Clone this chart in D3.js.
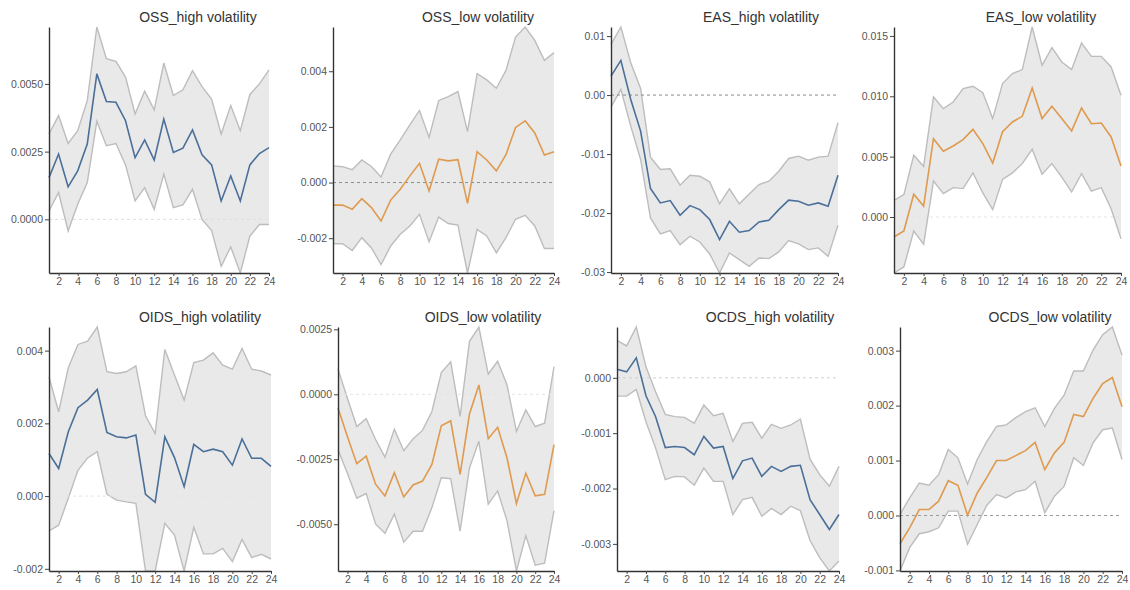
<!DOCTYPE html>
<html>
<head>
<meta charset="utf-8">
<script src="https://cdn.jsdelivr.net/npm/d3@7"></script>
<style>
  body { margin: 0; background: #fff; }
  svg { display: block; font-family: "Liberation Sans", Arial, sans-serif; }
  .tick text { fill: #555; font-size: 10.5px; }
  .title { fill: #333; font-size: 14px; font-weight: 400; }
</style>
</head>
<body>
<svg id="chart" width="1130" height="590"></svg>
<script>
// horizons 1..24
const horizons = d3.range(1, 25);

// OSS_high volatility
const ossHighMean  = [0.00154, 0.00241, 0.00120, 0.00179, 0.00278, 0.00537, 0.00435, 0.00432, 0.00364, 0.00228, 0.00293, 0.00219, 0.00370, 0.00247, 0.00263, 0.00330, 0.00238, 0.00201, 0.00068, 0.00160, 0.00068, 0.00201, 0.00243, 0.00265];
const ossHighUpper = [0.00315, 0.00383, 0.00280, 0.00327, 0.00438, 0.00710, 0.00593, 0.00583, 0.00525, 0.00389, 0.00473, 0.00404, 0.00577, 0.00457, 0.00478, 0.00549, 0.00490, 0.00444, 0.00315, 0.00420, 0.00327, 0.00461, 0.00500, 0.00552];
const ossHighLower = [0.00031, 0.00099, -0.00043, 0.00056, 0.00136, 0.00362, 0.00272, 0.00280, 0.00201, 0.00068, 0.00117, 0.00037, 0.00167, 0.00043, 0.00053, 0.00111, 0.00000, -0.00041, -0.00173, -0.00102, -0.00198, -0.00062, -0.00019, -0.00019];

// OSS_low volatility
const ossLowMean  = [-0.00081, -0.00081, -0.00096, -0.00058, -0.00090, -0.00138, -0.00063, -0.00024, 0.00024, 0.00069, -0.00030, 0.00084, 0.00078, 0.00082, -0.00075, 0.00111, 0.00081, 0.00042, 0.00100, 0.00198, 0.00222, 0.00178, 0.00099, 0.00111];
const ossLowUpper = [0.00060, 0.00057, 0.00046, 0.00081, 0.00058, 0.00020, 0.00102, 0.00153, 0.00207, 0.00259, 0.00162, 0.00295, 0.00309, 0.00327, 0.00183, 0.00391, 0.00369, 0.00339, 0.00403, 0.00523, 0.00559, 0.00511, 0.00439, 0.00467];
const ossLowLower = [-0.00220, -0.00220, -0.00244, -0.00198, -0.00235, -0.00295, -0.00228, -0.00186, -0.00156, -0.00114, -0.00213, -0.00124, -0.00147, -0.00153, -0.00325, -0.00168, -0.00192, -0.00253, -0.00198, -0.00132, -0.00118, -0.00156, -0.00237, -0.00237];

// EAS_high volatility
const easHighMean  = [0.00322, 0.00588, -0.00074, -0.00611, -0.01584, -0.01828, -0.01788, -0.02037, -0.01873, -0.01941, -0.02110, -0.02450, -0.02139, -0.02325, -0.02297, -0.02150, -0.02122, -0.01941, -0.01782, -0.01799, -0.01867, -0.01828, -0.01884, -0.01358];
const easHighUpper = [0.00860, 0.01154, 0.00549, 0.00113, -0.01052, -0.01262, -0.01250, -0.01528, -0.01358, -0.01375, -0.01471, -0.01844, -0.01590, -0.01844, -0.01675, -0.01516, -0.01460, -0.01290, -0.01075, -0.01035, -0.01103, -0.01052, -0.01035, -0.00470];
const easHighLower = [-0.00204, 0.00096, -0.00526, -0.01092, -0.02082, -0.02354, -0.02297, -0.02535, -0.02393, -0.02490, -0.02693, -0.03016, -0.02676, -0.02789, -0.02903, -0.02761, -0.02772, -0.02659, -0.02467, -0.02523, -0.02620, -0.02591, -0.02733, -0.02207];

// EAS_low volatility
const easLowMean  = [-0.00166, -0.00116, 0.00188, 0.00091, 0.00649, 0.00544, 0.00588, 0.00641, 0.00726, 0.00608, 0.00447, 0.00707, 0.00787, 0.00834, 0.01069, 0.00815, 0.00917, 0.00815, 0.00713, 0.00903, 0.00773, 0.00779, 0.00663, 0.00423];
const easLowUpper = [0.00138, 0.00185, 0.00511, 0.00420, 0.00994, 0.00898, 0.00953, 0.01063, 0.01083, 0.01030, 0.00815, 0.01105, 0.01188, 0.01221, 0.01574, 0.01257, 0.01403, 0.01284, 0.01221, 0.01442, 0.01331, 0.01331, 0.01243, 0.01008];
const easLowLower = [-0.00464, -0.00414, -0.00116, -0.00226, 0.00298, 0.00193, 0.00243, 0.00235, 0.00365, 0.00199, 0.00061, 0.00312, 0.00365, 0.00442, 0.00561, 0.00354, 0.00442, 0.00331, 0.00207, 0.00359, 0.00215, 0.00243, 0.00069, -0.00180];

// OIDS_high volatility
const oidsHighMean  = [0.00117, 0.00076, 0.00177, 0.00243, 0.00264, 0.00293, 0.00175, 0.00163, 0.00160, 0.00168, 0.00005, -0.00017, 0.00163, 0.00106, 0.00026, 0.00142, 0.00122, 0.00129, 0.00122, 0.00085, 0.00157, 0.00104, 0.00104, 0.00082];
const oidsHighUpper = [0.00328, 0.00232, 0.00353, 0.00417, 0.00426, 0.00465, 0.00342, 0.00337, 0.00342, 0.00358, 0.00221, 0.00172, 0.00403, 0.00333, 0.00264, 0.00367, 0.00374, 0.00394, 0.00360, 0.00349, 0.00406, 0.00349, 0.00344, 0.00333];
const oidsHighLower = [-0.00096, -0.00080, -0.00006, 0.00071, 0.00105, 0.00122, 0.00005, -0.00011, -0.00016, -0.00020, -0.00206, -0.00206, -0.00075, -0.00107, -0.00206, -0.00086, -0.00159, -0.00159, -0.00144, -0.00180, -0.00119, -0.00169, -0.00160, -0.00173];

// OIDS_low volatility
const oidsLowMean  = [-0.00053, -0.00162, -0.00267, -0.00238, -0.00346, -0.00391, -0.00302, -0.00395, -0.00349, -0.00334, -0.00270, -0.00121, -0.00102, -0.00308, -0.00076, 0.00036, -0.00171, -0.00127, -0.00245, -0.00420, -0.00304, -0.00391, -0.00385, -0.00194];
const oidsLowUpper = [0.00097, -0.00015, -0.00124, -0.00094, -0.00174, -0.00242, -0.00134, -0.00217, -0.00171, -0.00139, -0.00066, 0.00084, 0.00125, -0.00085, 0.00204, 0.00259, 0.00078, 0.00127, 0.00036, -0.00143, -0.00060, -0.00124, -0.00111, 0.00106];
const oidsLowLower = [-0.00213, -0.00304, -0.00400, -0.00382, -0.00499, -0.00535, -0.00461, -0.00569, -0.00527, -0.00527, -0.00436, -0.00321, -0.00325, -0.00527, -0.00283, -0.00181, -0.00423, -0.00372, -0.00487, -0.00680, -0.00544, -0.00658, -0.00650, -0.00448];

// OCDS_high volatility
const ocdsHighMean  = [0.000156, 0.000108, 0.00036, -0.000324, -0.000702, -0.00126, -0.00124, -0.00126, -0.00139, -0.00106, -0.00127, -0.00124, -0.00182, -0.00150, -0.00145, -0.00178, -0.00160, -0.00169, -0.00160, -0.00158, -0.00220, -0.00247, -0.00274, -0.00247];
const ocdsHighUpper = [0.000678, 0.000576, 0.000918, 0.000198, -0.000252, -0.00066, -0.000702, -0.000714, -0.000822, -0.000492, -0.000684, -0.000642, -0.00115, -0.000822, -0.000804, -0.00109, -0.00084, -0.000912, -0.000852, -0.000744, -0.00147, -0.00175, -0.00196, -0.00160];
const ocdsHighLower = [-0.00033, -0.00033, -0.00021, -0.000792, -0.00127, -0.00184, -0.00178, -0.00179, -0.00194, -0.00163, -0.00187, -0.00187, -0.00247, -0.00220, -0.00216, -0.00250, -0.00236, -0.00247, -0.00232, -0.00240, -0.00294, -0.00325, -0.00349, -0.00331];

// OCDS_low volatility
const ocdsLowMean  = [-0.000514, -0.000224, 0.000109, 0.000109, 0.00026, 0.000634, 0.00055, 0.000006, 0.00041, 0.000695, 0.00100, 0.00100, 0.00109, 0.00118, 0.00133, 0.000834, 0.00114, 0.00133, 0.00184, 0.00180, 0.00213, 0.00240, 0.00251, 0.00198];
const ocdsLowUpper = [0.000018, 0.00032, 0.000592, 0.00055, 0.000743, 0.00120, 0.00105, 0.000574, 0.00102, 0.00135, 0.00162, 0.00165, 0.00178, 0.00189, 0.00196, 0.00162, 0.00195, 0.00219, 0.00263, 0.00263, 0.00301, 0.00329, 0.00343, 0.00292];
const ocdsLowLower = [-0.00101, -0.000586, -0.000332, -0.000296, -0.000224, 0.000079, 0.000079, -0.000526, -0.000163, 0.000187, 0.00038, 0.00032, 0.00043, 0.00047, 0.000622, 0.000048, 0.00035, 0.00053, 0.00105, 0.00091, 0.00132, 0.00156, 0.00159, 0.00102];

// tick labels
const xTicks = d3.range(2, 25, 2);
const yTicksOssHigh = ["0.0000", "0.0025", "0.0050"];
const yTicksOssLow = ["-0.002", "0.000", "0.002", "0.004"];
const yTicksEasHigh = ["-0.03", "-0.02", "-0.01", "0.00", "0.01"];
const yTicksEasLow = ["0.000", "0.005", "0.010", "0.015"];
const yTicksOidsHigh = ["-0.002", "0.000", "0.002", "0.004"];
const yTicksOidsLow = ["-0.0050", "-0.0025", "0.0000", "0.0025"];
const yTicksOcdsHigh = ["-0.003", "-0.002", "-0.001", "0.000"];
const yTicksOcdsLow = ["-0.001", "0.000", "0.001", "0.002", "0.003"];

const titles = ["OSS_high volatility", "OSS_low volatility", "EAS_high volatility", "EAS_low volatility",
                "OIDS_high volatility", "OIDS_low volatility", "OCDS_high volatility", "OCDS_low volatility"];

const HIGH = "#4a6f99", LOW = "#de9a4f";

const panels = [
  { mean: ossHighMean, upper: ossHighUpper, lower: ossHighLower, ticks: yTicksOssHigh, color: HIGH },
  { mean: ossLowMean, upper: ossLowUpper, lower: ossLowLower, ticks: yTicksOssLow, color: LOW },
  { mean: easHighMean, upper: easHighUpper, lower: easHighLower, ticks: yTicksEasHigh, color: HIGH },
  { mean: easLowMean, upper: easLowUpper, lower: easLowLower, ticks: yTicksEasLow, color: LOW },
  { mean: oidsHighMean, upper: oidsHighUpper, lower: oidsHighLower, ticks: yTicksOidsHigh, color: HIGH },
  { mean: oidsLowMean, upper: oidsLowUpper, lower: oidsLowLower, ticks: yTicksOidsLow, color: LOW },
  { mean: ocdsHighMean, upper: ocdsHighUpper, lower: ocdsHighLower, ticks: yTicksOcdsHigh, color: HIGH },
  { mean: ocdsLowMean, upper: ocdsLowUpper, lower: ocdsLowLower, ticks: yTicksOcdsLow, color: LOW },
];

// layout: plot boxes, title centres, zero line colour
const boxes = [
  { l: 49, r: 269, t: 27, b: 273, tx: 198, zc: "#dedede" },
  { l: 333, r: 554, t: 27, b: 273, tx: 478, zc: "#8a8a8a" },
  { l: 611, r: 838, t: 27, b: 273, tx: 761, zc: "#8a8a8a" },
  { l: 894, r: 1121, t: 27, b: 273, tx: 1041, zc: "#e4e4e4" },
  { l: 49, r: 271, t: 327, b: 571, tx: 200, zc: "#e4e4e4" },
  { l: 338, r: 554, t: 327, b: 571, tx: 483, zc: "#e4e4e4" },
  { l: 617, r: 839, t: 327, b: 571, tx: 770, zc: "#cfcfcf" },
  { l: 900, r: 1122, t: 327, b: 571, tx: 1050, zc: "#9a9a9a" },
];

const svg = d3.select("#chart");

panels.forEach((p, i) => {
  const box = boxes[i];
  const rows = horizons.map((h, k) => ({ h, m: p.mean[k], u: p.upper[k], lo: p.lower[k] }));

  const x = d3.scaleLinear().domain([1, 24]).range([box.l, box.r]);
  const y = d3.scaleLinear()
    .domain([d3.min(p.lower), d3.max(p.upper)])
    .range([box.b, box.t]);

  const g = svg.append("g");

  g.append("path")
    .datum(rows)
    .attr("fill", "#e9e9e9")
    .attr("d", d3.area().x(d => x(d.h)).y0(d => y(d.lo)).y1(d => y(d.u)));

  ["u", "lo"].forEach(key => {
    g.append("path")
      .datum(rows)
      .attr("fill", "none")
      .attr("stroke", "#bdbdbd")
      .attr("stroke-width", 1.4)
      .attr("d", d3.line().x(d => x(d.h)).y(d => y(d[key])));
  });

  g.append("line")
    .attr("x1", box.l).attr("x2", box.r)
    .attr("y1", y(0)).attr("y2", y(0))
    .attr("stroke", box.zc)
    .attr("stroke-width", 1)
    .attr("stroke-dasharray", "3,3");

  g.append("path")
    .datum(rows)
    .attr("fill", "none")
    .attr("stroke", p.color)
    .attr("stroke-width", 1.6)
    .attr("d", d3.line().x(d => x(d.h)).y(d => y(d.m)));

  const yAxis = d3.axisLeft(y)
    .tickValues(p.ticks.map(Number))
    .tickFormat((d, k) => p.ticks[k])
    .tickSize(4).tickSizeOuter(0).tickPadding(2);
  const ya = g.append("g").attr("transform", `translate(${box.l},0)`).call(yAxis);

  const xAxis = d3.axisBottom(x).tickValues(xTicks).tickFormat(d3.format("d"))
    .tickSize(3).tickSizeOuter(0).tickPadding(2);
  const xa = g.append("g").attr("transform", `translate(0,${box.b})`).call(xAxis);

  [ya, xa].forEach(a => {
    a.select(".domain").attr("stroke", "#333").attr("stroke-width", 1.4);
    a.selectAll(".tick line").attr("stroke", "#444");
  });

  g.append("text")
    .attr("class", "title")
    .attr("x", box.tx)
    .attr("y", box.t - 5)
    .attr("text-anchor", "middle")
    .text(titles[i]);
});
</script>
</body>
</html>
